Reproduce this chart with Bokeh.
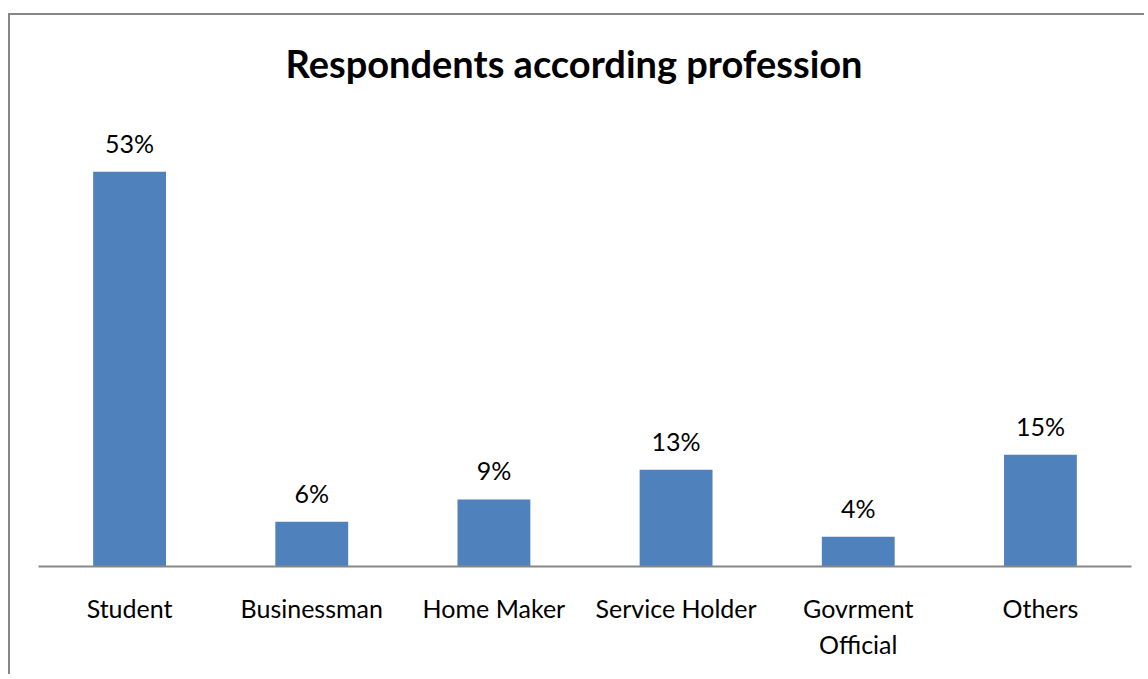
from bokeh.plotting import figure
from bokeh.models import ColumnDataSource, FactorRange, Range1d, LabelSet
from bokeh.core.properties import value
from bokeh.embed import file_html
from bokeh.resources import INLINE

title_text = "Respondents according profession"
categories = ["Student", "Businessman", "Home Maker", "Service Holder", "Govrment\nOfficial", "Others"]
values = [53, 6, 9, 13, 4, 15]
value_labels = ["53%", "6%", "9%", "13%", "4%", "15%"]

FONT = "Lato"
BAR = "#4F81BD"
GRAY = "#878787"

src = ColumnDataSource(dict(cat=categories, val=values, lab=value_labels))

p = figure(
    x_range=FactorRange(*categories, range_padding=0),
    y_range=Range1d(0, 60),
    width=1136, height=670,
    output_backend="svg", toolbar_location=None,
    min_border_left=30, min_border_right=13,
    min_border_top=115, min_border_bottom=108,
    title=title_text,
)
p.margin = (4, 0, 0, 8)
# chart-area frame lines (top and left), drawn behind a transparent canvas border
p.styles = {
    "background": (
        f"linear-gradient({GRAY},{GRAY}) 0px 9px / 100% 2px no-repeat, "
        f"linear-gradient({GRAY},{GRAY}) 0px 9px / 2px 100% no-repeat, white"
    )
}
p.border_fill_alpha = 0
p.background_fill_color = "white"

p.title.align = "left"
p.title.offset = 247
p.title.text_font = FONT
p.title.text_font_size = "38px"
p.title.text_font_style = "bold"
p.title.text_color = "black"
p.title.standoff = 67

p.vbar(x="cat", top="val", width=0.4, source=src, fill_color=BAR, line_color=None)

labels = LabelSet(x="cat", y="val", text="lab", source=src, text_align="center",
                  text_baseline="alphabetic", y_offset=19,
                  text_font=value(FONT), text_font_size="25px", text_color="black")
p.add_layout(labels)

p.outline_line_color = None
p.xgrid.visible = False
p.ygrid.visible = False
p.yaxis.visible = False

ax = p.xaxis[0]
ax.axis_line_color = GRAY
ax.axis_line_width = 2
ax.major_tick_line_color = None
ax.minor_tick_line_color = None
ax.major_label_text_font = FONT
ax.major_label_text_font_size = "25px"
ax.major_label_text_color = "black"
ax.major_label_standoff = 20

open("out.html", "w").write(file_html(p, INLINE))
